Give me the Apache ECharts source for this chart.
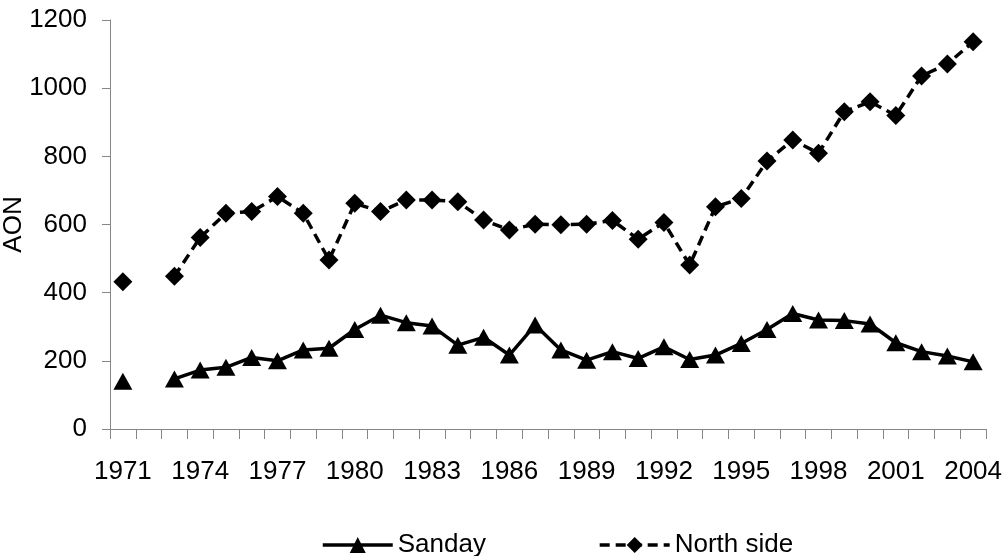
<!DOCTYPE html>
<html><head><meta charset="utf-8">
<script src="https://cdn.jsdelivr.net/npm/echarts@6/dist/echarts.min.js"></script>
<style>html,body{margin:0;padding:0;background:#fff}#c{width:1005px;height:556px}</style>
</head><body><div id="c"></div>
<script>
var years = ['1971','1972','1973','1974','1975','1976','1977','1978','1979','1980','1981','1982','1983','1984','1985','1986','1987','1988','1989','1990','1991','1992','1993','1994','1995','1996','1997','1998','1999','2000','2001','2002','2003','2004'];
var sanday = [140,null,147,173,181,210,200,232,237,292,334,312,302,246,269,217,305,232,202,227,207,241,204,217,251,292,339,320,318,308,253,227,214,197];
var northSide = [432,null,448,562,633,638,682,633,496,662,638,672,672,667,613,584,601,599,601,612,557,606,481,652,676,786,848,809,931,960,920,1036,1071,1136];
var yTicks = [0,200,400,600,800,1000,1200];

var font = 'Liberation Sans, Arial, sans-serif';
var chart = echarts.init(document.getElementById('c'));
chart.setOption({
  animation: false,
  grid: {left: 110, right: 19, top: 20, bottom: 127, containLabel: false, outerBoundsMode: 'none'},
  legend: {
    left: 316, top: 527, itemWidth: 70, itemHeight: 20, itemGap: 112,
    textStyle: {fontFamily: font, fontSize: 26, color: '#000'},
    lineStyle: {width: 3.5},
    data: ['Sanday', 'North side']
  },
  xAxis: {
    type: 'category', data: years, boundaryGap: true,
    axisLine: {lineStyle: {color: '#868686', width: 1}},
    axisTick: {show: true, interval: 0, length: 10, alignWithLabel: false, lineStyle: {color: '#868686'}},
    axisLabel: {interval: 2, margin: 30, fontFamily: font, fontSize: 26, color: '#000'},
    splitLine: {show: false}
  },
  yAxis: {
    type: 'value', min: yTicks[0], max: yTicks[yTicks.length-1], interval: 200,
    name: 'AON', nameLocation: 'middle', nameGap: 83, nameRotate: 90, nameMoveOverlap: false,
    nameTextStyle: {fontFamily: font, fontSize: 26, color: '#000'},
    axisLine: {show: true, lineStyle: {color: '#868686', width: 1}},
    axisTick: {show: true, length: 8, lineStyle: {color: '#868686'}},
    axisLabel: {margin: 23, fontFamily: font, fontSize: 26, color: '#000', formatter: function (v) { return String(v); }},
    splitLine: {show: false}
  },
  series: [
    {
      name: 'Sanday', type: 'line', data: sanday, connectNulls: false,
      symbol: 'triangle', symbolSize: [19, 17], showAllSymbol: true,
      lineStyle: {color: '#000', width: 3.5},
      itemStyle: {color: '#000'}
    },
    {
      name: 'North side', type: 'line', data: northSide, connectNulls: false,
      symbol: 'diamond', symbolSize: 19, showAllSymbol: true,
      lineStyle: {color: '#000', width: 3.5, type: [10, 6]},
      itemStyle: {color: '#000'}
    }
  ]
});
</script></body></html>
